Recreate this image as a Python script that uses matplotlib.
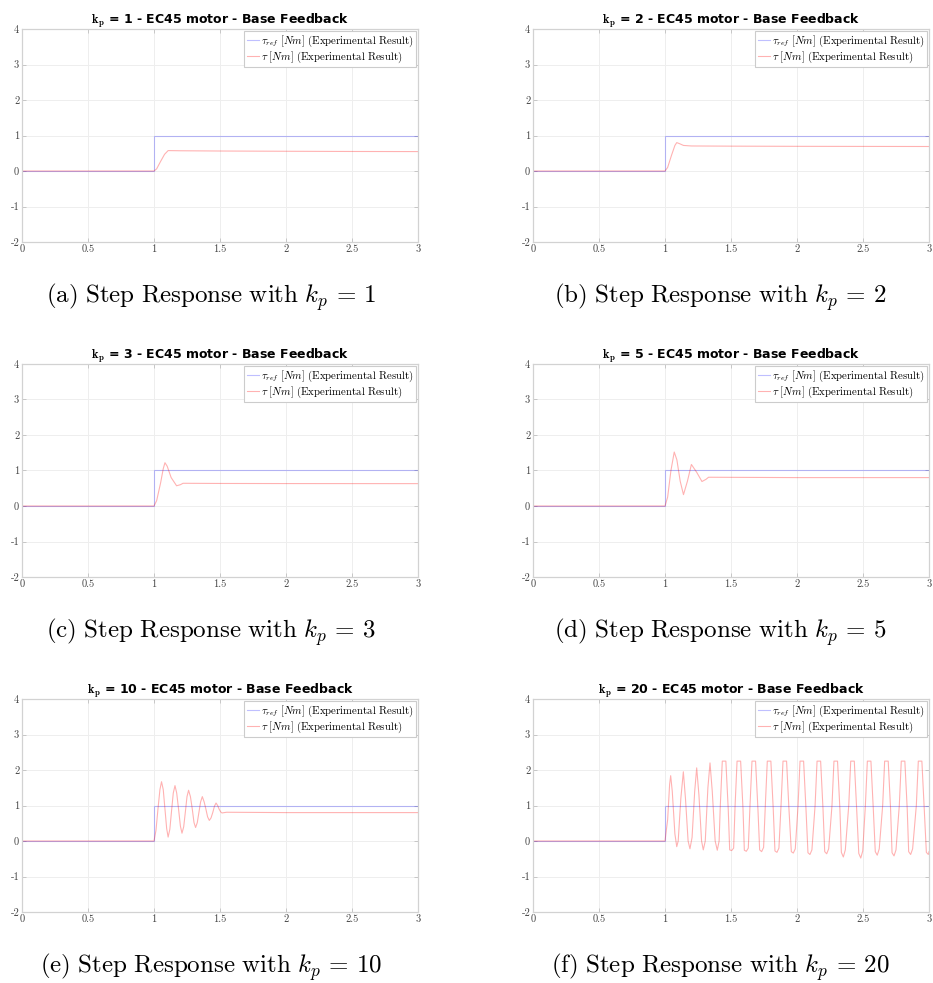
import matplotlib.pyplot as plt

plt.rcParams['mathtext.fontset'] = 'cm'

# Reference step (same for every test)
t_ref = [0, 1.0, 1.0, 3.0]
tau_ref = [0, 0, 1, 1]

t_kp1 = [0, 1.0, 1.02, 1.05, 1.08, 1.107, 1.2, 1.5, 2.0, 2.5, 3.0]
tau_kp1 = [0, 0, 0.06, 0.27, 0.47, 0.575, 0.57, 0.563, 0.556, 0.55, 0.547]

t_kp2 = [0, 1.0, 1.02, 1.05, 1.075, 1.089, 1.11, 1.14, 1.2, 1.5, 2.0, 3.0]
tau_kp2 = [0, 0, 0.1, 0.45, 0.72, 0.8, 0.77, 0.72, 0.705, 0.70, 0.695, 0.69]

t_kp3 = [0, 1.0, 1.02, 1.05, 1.07, 1.083, 1.10, 1.13, 1.171, 1.20, 1.22, 1.5, 2.0, 3.0]
tau_kp3 = [0, 0, 0.15, 0.65, 1.05, 1.22, 1.12, 0.8, 0.57, 0.6, 0.64, 0.635, 0.632, 0.63]

t_kp5 = [0, 1.0, 1.02, 1.045, 1.07, 1.09, 1.115, 1.14, 1.17, 1.20, 1.24, 1.28, 1.31, 1.33, 2.0, 3.0]
tau_kp5 = [0, 0, 0.25, 1.0, 1.52, 1.3, 0.7, 0.32, 0.7, 1.17, 0.95, 0.69, 0.75, 0.81, 0.80, 0.80]

t_kp10 = [0, 1.0, 1.015, 1.03, 1.045, 1.057, 1.07, 1.083, 1.096, 1.107, 1.12, 1.133, 1.146,
          1.159, 1.172, 1.186, 1.2, 1.212, 1.225, 1.237, 1.25, 1.262, 1.276, 1.29, 1.303,
          1.315, 1.328, 1.34, 1.353, 1.366, 1.38, 1.393, 1.406, 1.419, 1.432, 1.445, 1.458,
          1.47, 1.482, 1.493, 1.505, 1.515, 1.55, 2.0, 3.0]
tau_kp10 = [0, 0, 0.3, 0.9, 1.45, 1.67, 1.45, 0.9, 0.35, 0.11, 0.33, 0.85, 1.35,
            1.56, 1.35, 0.9, 0.42, 0.22, 0.4, 0.8, 1.25, 1.43, 1.25, 0.9, 0.52,
            0.38, 0.52, 0.8, 1.1, 1.25, 1.1, 0.9, 0.68, 0.58, 0.65, 0.8, 0.98,
            1.07, 1.0, 0.9, 0.82, 0.79, 0.81, 0.80, 0.80]

t_kp20 = [0, 1.0, 1.02, 1.035, 1.043, 1.055, 1.075, 1.089, 1.10, 1.12, 1.139, 1.155, 1.175, 1.189,
          1.205, 1.225, 1.240, 1.257, 1.277, 1.29, 1.305, 1.325, 1.341, 1.358, 1.38, 1.396, 1.41,
          1.419, 1.434, 1.461, 1.479, 1.490, 1.505, 1.520,
          1.531, 1.546, 1.573, 1.591, 1.601, 1.616, 1.631,
          1.644, 1.659, 1.686, 1.704, 1.717, 1.732, 1.747,
          1.760, 1.775, 1.802, 1.820, 1.833, 1.848, 1.863,
          1.879, 1.894, 1.921, 1.939, 1.957, 1.972, 1.987,
          2.008, 2.023, 2.050, 2.068, 2.083, 2.098, 2.113,
          2.137, 2.152, 2.179, 2.197, 2.210, 2.225, 2.240,
          2.265, 2.280, 2.307, 2.325, 2.336, 2.351, 2.366,
          2.392, 2.407, 2.434, 2.452, 2.468, 2.483, 2.498,
          2.518, 2.533, 2.560, 2.578, 2.593, 2.608, 2.623,
          2.649, 2.664, 2.691, 2.709, 2.720, 2.735, 2.750,
          2.775, 2.790, 2.817, 2.835, 2.846, 2.861, 2.876,
          2.904, 2.919, 2.946, 2.964, 2.980, 2.995, 3.0]
tau_kp20 = [0, 0, 0.6, 1.6, 1.84, 1.4, 0.2, -0.16, 0.0, 1.2, 1.95, 1.2, 0.0, -0.22,
            0.1, 1.4, 2.06, 1.3, 0.0, -0.25, 0.0, 1.5, 2.20, 1.4, 0.0, -0.26, 0.0,
            1.0, 2.25, 2.25, 0.9, -0.25, -0.27, -0.2,
            1.0, 2.25, 2.25, 0.9, -0.26, -0.29, -0.2,
            1.0, 2.25, 2.25, 0.9, -0.25, -0.30, -0.18,
            1.0, 2.25, 2.25, 0.9, -0.28, -0.32, -0.2,
            1.0, 2.25, 2.25, 0.9, -0.30, -0.34, -0.22,
            1.0, 2.25, 2.25, 0.9, -0.33, -0.38, -0.25,
            1.0, 2.25, 2.25, 0.9, -0.30, -0.36, -0.22,
            1.0, 2.25, 2.25, 0.9, -0.32, -0.45, -0.25,
            1.0, 2.25, 2.25, 0.9, -0.35, -0.48, -0.28,
            1.0, 2.25, 2.25, 0.9, -0.30, -0.40, -0.22,
            1.0, 2.25, 2.25, 0.9, -0.33, -0.42, -0.25,
            1.0, 2.25, 2.25, 0.9, -0.30, -0.38, -0.22,
            1.0, 2.25, 2.25, 0.9, -0.32, -0.38, -0.30]

gains = [1, 2, 3, 5, 10, 20]
letters = ['a', 'b', 'c', 'd', 'e', 'f']
t_all = [t_kp1, t_kp2, t_kp3, t_kp5, t_kp10, t_kp20]
tau_all = [tau_kp1, tau_kp2, tau_kp3, tau_kp5, tau_kp10, tau_kp20]

x_ticks = [0, 0.5, 1, 1.5, 2, 2.5, 3]
x_labels = ['0', '0.5', '1', '1.5', '2', '2.5', '3']
y_ticks = [-2, -1, 0, 1, 2, 3, 4]
y_labels = ['-2', '-1', '0', '1', '2', '3', '4']

W, H = 933, 983
fig = plt.figure(figsize=(W / 100, H / 100), dpi=100)

lefts = [22, 533]
tops = [29, 364, 699]
cap_x = [211, 720]
cap_y = [297, 632, 967]
ax_w, ax_h = 396, 213

for i, kp in enumerate(gains):
    row, col = divmod(i, 2)
    ax = fig.add_axes([lefts[col] / W, 1 - (tops[row] + ax_h) / H, ax_w / W, ax_h / H])
    ax.plot(t_ref, tau_ref, color='#0000ff', alpha=0.25, lw=0.8,
            label=r'$\tau_{ref}\ [Nm]\ \mathrm{(Experimental\ Result)}$')
    ax.plot(t_all[i], tau_all[i], color='#ff0000', alpha=0.3, lw=0.8,
            label=r'$\tau\ [Nm]\ \mathrm{(Experimental\ Result)}$')
    ax.set_xlim(0, 3)
    ax.set_ylim(-2, 4)
    ax.set_xticks(x_ticks)
    ax.set_xticklabels(x_labels, fontfamily='cmr10')
    ax.set_yticks(y_ticks)
    ax.set_yticklabels(y_labels, fontfamily='cmr10')
    ax.grid(True, color='#eeeeee', lw=0.7)
    ax.set_axisbelow(True)
    for s in ax.spines.values():
        s.set_color('#d2d2d2')
        s.set_linewidth(0.9)
    ax.tick_params(direction='in', length=3, width=0.6, color='#c0c0c0',
                   labelsize=7.5, labelcolor='#444444', pad=2, top=True, right=True)
    ax.set_title(r'$\mathbf{k_p}$ = %d - EC45 motor - Base Feedback' % kp,
                 fontsize=9, fontweight='bold', pad=4)
    leg = ax.legend(loc='upper right', fontsize=7.8, handlelength=1.1, handletextpad=0.2,
                    borderpad=0.2, labelspacing=0.1, borderaxespad=0.2,
                    fancybox=False, framealpha=1)
    leg.get_frame().set_edgecolor('#cccccc')
    leg.get_frame().set_linewidth(0.8)

    fig.text(cap_x[col] / W, 1 - cap_y[row] / H,
             r'$\mathrm{(%s)\ Step\ Response\ with\ }k_p \,=\, %d$' % (letters[i], kp),
             ha='center', va='center', fontsize=18)

fig.savefig('out.png', dpi=100)
